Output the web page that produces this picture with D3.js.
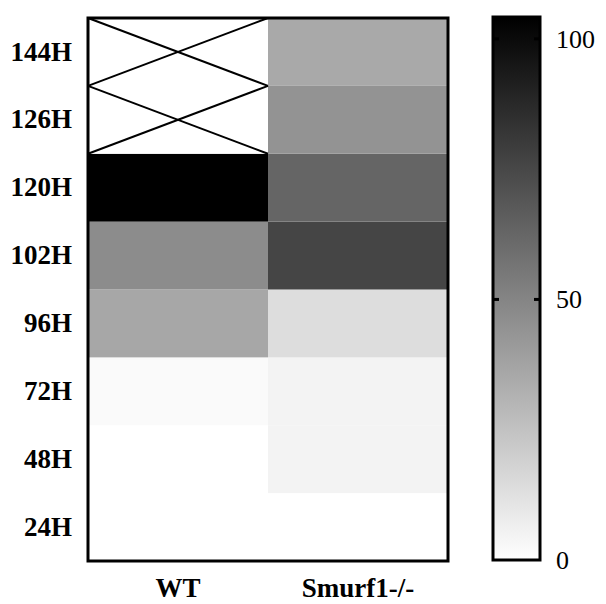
<!DOCTYPE html>
<html>
<head>
<meta charset="utf-8">
<script src="https://cdn.jsdelivr.net/npm/d3@7"></script>
<style>
  body { margin: 0; background: #fff; }
  text { font-family: "Liberation Serif", "Times New Roman", serif; }
</style>
</head>
<body>
<div id="chart"></div>
<script>
// data (bottom row first)
const timepoints = ["24H", "48H", "72H", "96H", "102H", "120H", "126H", "144H"];
const groups = ["WT", "Smurf1-/-"];
const wtValues = [0, 0, 2, 36, 47, 104, null, null];   // null = no sample (crossed cell)
const smurfValues = [0, 5, 5, 14, 76, 63, 44, 35];
const colorTicks = [0, 50, 100];
const colorMax = 104;

const width = 606, height = 604;

const svg = d3.select("#chart").append("svg")
    .attr("width", width)
    .attr("height", height);

// heatmap area
const plot = { left: 88, top: 18, right: 448, bottom: 561 };

let xScale = d3.scaleBand().domain(groups).range([plot.left, plot.right]);
let yScale = d3.scaleBand().domain(timepoints).range([plot.bottom, plot.top]);
let color = d3.scaleLinear().domain([0, colorMax]).range(["#ffffff", "#000000"]);

let cells = [];
timepoints.forEach((t, i) => {
    cells.push({ group: "WT", time: t, value: wtValues[i] });
    cells.push({ group: "Smurf1-/-", time: t, value: smurfValues[i] });
});

svg.selectAll(".cell")
    .data(cells)
    .enter()
    .append("rect")
    .attr("class", "cell")
    .attr("x", d => xScale(d.group))
    .attr("y", d => yScale(d.time))
    .attr("width", xScale.bandwidth())
    .attr("height", yScale.bandwidth())
    .attr("fill", d => d.value === null ? "#ffffff" : color(d.value));

// crossed out cells
let missing = cells.filter(d => d.value === null);
let crosses = svg.selectAll(".cross")
    .data(missing)
    .enter()
    .append("g")
    .attr("class", "cross");
crosses.append("line")
    .attr("x1", d => xScale(d.group))
    .attr("y1", d => yScale(d.time))
    .attr("x2", d => xScale(d.group) + xScale.bandwidth())
    .attr("y2", d => yScale(d.time) + yScale.bandwidth());
crosses.append("line")
    .attr("x1", d => xScale(d.group))
    .attr("y1", d => yScale(d.time) + yScale.bandwidth())
    .attr("x2", d => xScale(d.group) + xScale.bandwidth())
    .attr("y2", d => yScale(d.time));
crosses.selectAll("line")
    .attr("stroke", "#000")
    .attr("stroke-width", 2);

// frame
svg.append("rect")
    .attr("x", plot.left)
    .attr("y", plot.top)
    .attr("width", plot.right - plot.left)
    .attr("height", plot.bottom - plot.top)
    .attr("fill", "none")
    .attr("stroke", "#000")
    .attr("stroke-width", 3);

// row labels
let yAxis = svg.append("g")
    .attr("transform", "translate(" + plot.left + ",0)")
    .call(d3.axisLeft(yScale).tickSize(0).tickPadding(16));
yAxis.select(".domain").remove();
yAxis.selectAll("text")
    .attr("font-family", "'Liberation Serif', serif")
    .attr("font-size", 27)
    .attr("font-weight", "bold")
    .attr("fill", "#000");

// column labels
let xAxis = svg.append("g")
    .attr("transform", "translate(0," + plot.bottom + ")")
    .call(d3.axisBottom(xScale).tickSize(0).tickPadding(17));
xAxis.select(".domain").remove();
xAxis.selectAll("text")
    .attr("font-family", "'Liberation Serif', serif")
    .attr("font-size", 27)
    .attr("font-weight", "bold")
    .attr("fill", "#000");

// colour bar
let barLeft = 493, barRight = 540;
let barScale = d3.scaleLinear().domain([0, colorMax]).range([plot.bottom - 1, plot.top]);

let defs = svg.append("defs");
let grad = defs.append("linearGradient")
    .attr("id", "bar-grad")
    .attr("x1", 0).attr("y1", 1)
    .attr("x2", 0).attr("y2", 0);
grad.append("stop").attr("offset", "0%").attr("stop-color", color(0));
grad.append("stop").attr("offset", "100%").attr("stop-color", color(colorMax));

svg.append("rect")
    .attr("x", barLeft)
    .attr("y", barScale(colorMax) - 1)
    .attr("width", barRight - barLeft)
    .attr("height", barScale(0) - barScale(colorMax) + 1)
    .attr("fill", "url(#bar-grad)")
    .attr("stroke", "#000")
    .attr("stroke-width", 3);

// inward ticks on both sides
svg.selectAll(".tick-l")
    .data(colorTicks.filter(d => d > 0))
    .enter()
    .append("line")
    .attr("x1", barLeft)
    .attr("x2", barLeft + 6)
    .attr("y1", d => barScale(d))
    .attr("y2", d => barScale(d))
    .attr("stroke", "#000")
    .attr("stroke-width", 3);
svg.selectAll(".tick-r")
    .data(colorTicks.filter(d => d > 0))
    .enter()
    .append("line")
    .attr("x1", barRight - 6)
    .attr("x2", barRight)
    .attr("y1", d => barScale(d))
    .attr("y2", d => barScale(d))
    .attr("stroke", "#000")
    .attr("stroke-width", 3);

let cAxis = svg.append("g")
    .attr("transform", "translate(" + barRight + ",0)")
    .call(d3.axisRight(barScale).tickValues(colorTicks).tickSize(0).tickPadding(16));
cAxis.select(".domain").remove();
cAxis.selectAll("text")
    .attr("font-family", "'Liberation Serif', serif")
    .attr("font-size", 26)
    .attr("fill", "#000");
</script>
</body>
</html>
